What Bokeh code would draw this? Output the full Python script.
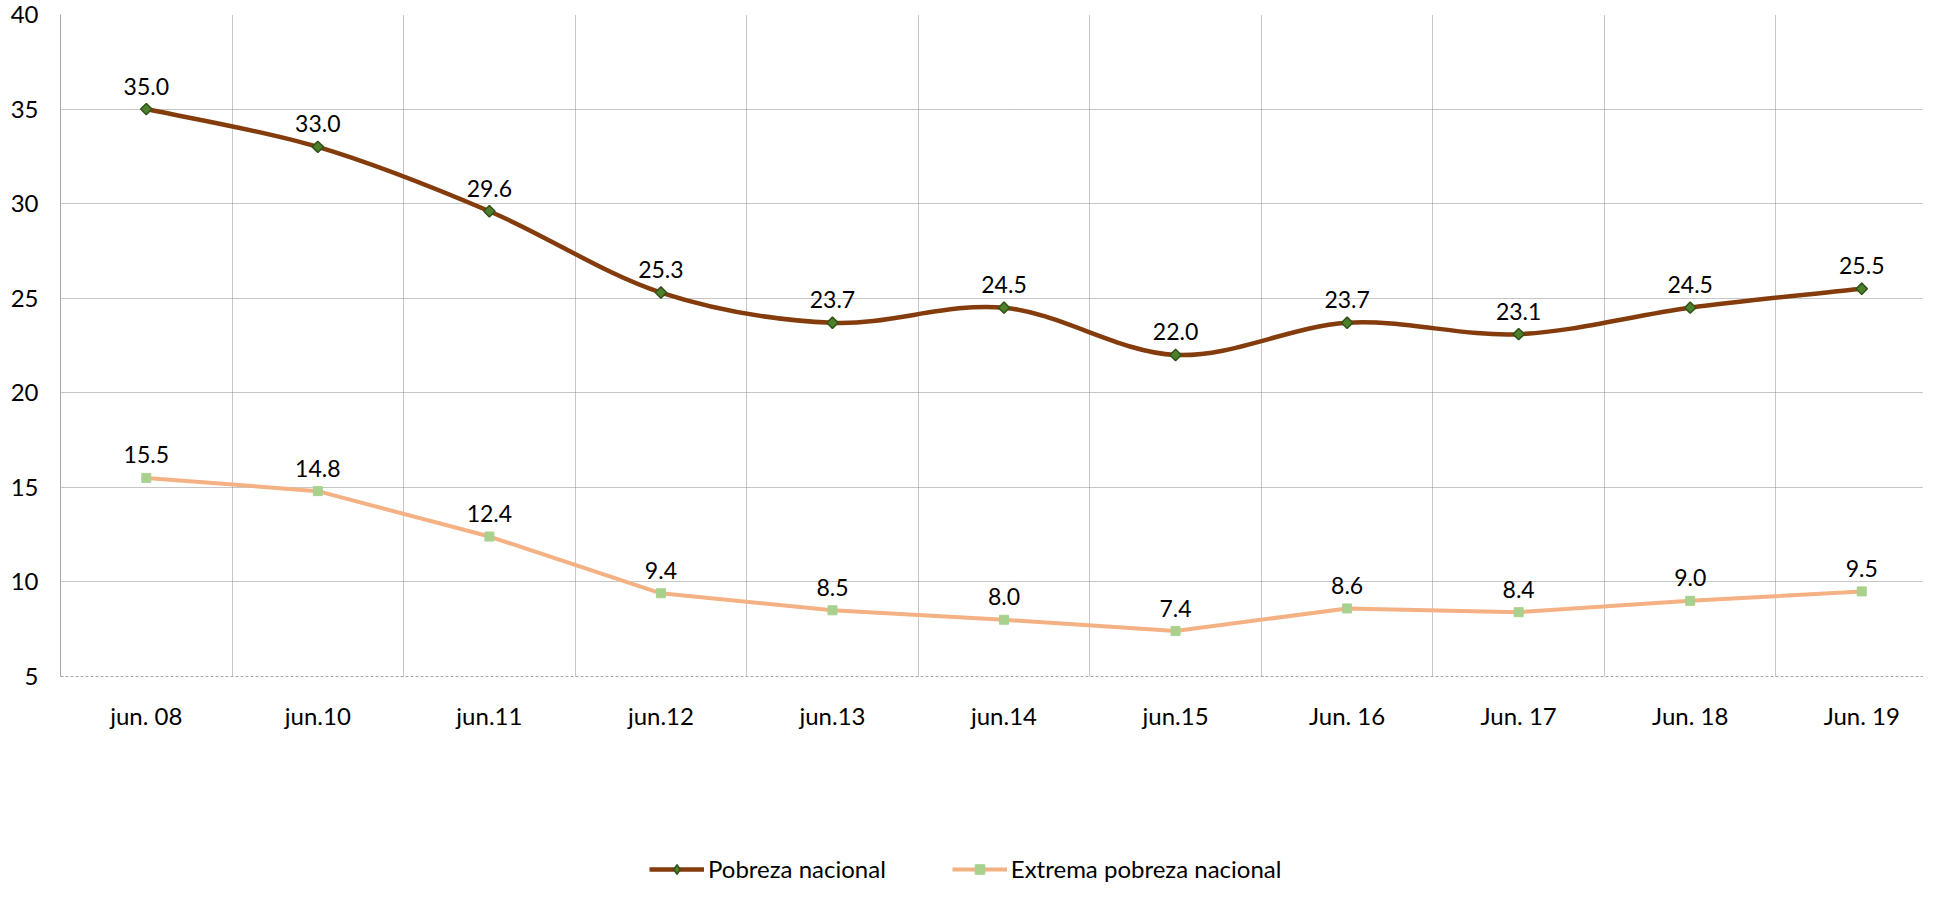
from math import pi
from bokeh.plotting import figure
from bokeh.layouts import column
from bokeh.models import Legend, LegendItem, FixedTicker, Range1d, ColumnDataSource
from bokeh.core.properties import value
from bokeh.embed import file_html
from bokeh.resources import INLINE

categories = ["jun. 08", "jun.10", "jun.11", "jun.12", "jun.13", "jun.14",
              "jun.15", "Jun. 16", "Jun. 17", "Jun. 18", "Jun. 19"]
pobreza = [35.0, 33.0, 29.6, 25.3, 23.7, 24.5, 22.0, 23.7, 23.1, 24.5, 25.5]
extrema = [15.5, 14.8, 12.4, 9.4, 8.5, 8.0, 7.4, 8.6, 8.4, 9.0, 9.5]
y_ticks = [5, 10, 15, 20, 25, 30, 35, 40]
series_names = ["Pobreza nacional", "Extrema pobreza nacional"]

FONT = "Lato"
C_POB = "#843C0C"
C_EXT = "#F4B183"
C_DIA_FILL = "#4E7F2B"
C_DIA_LINE = "#2F5219"
C_SQ = "#A9D18E"
GRID = "#8C8C8C"
AXIS = "#A6A6A6"

W = 1923
H_MAIN = 740
H_LEG = 143

xs = list(range(len(categories)))

p = figure(width=W, height=H_MAIN, output_backend="svg", toolbar_location=None,
           x_range=Range1d(-0.5, 10.36), y_range=Range1d(5, 40),
           min_border_left=60, min_border_right=0, min_border_top=14,
           min_border_bottom=64)
p.outline_line_color = None

# axes
p.xaxis.ticker = FixedTicker(ticks=xs)
p.xaxis.major_label_overrides = {i: c for i, c in zip(xs, categories)}
p.xaxis.major_tick_line_color = None
p.xaxis.major_tick_out = 0
p.xaxis.minor_tick_line_color = None
p.xaxis.axis_line_color = AXIS
p.xaxis.axis_line_dash = "3 2"
p.xaxis.major_label_standoff = 24
p.xaxis.major_label_text_font = FONT
p.xaxis.major_label_text_font_size = "24px"
p.xaxis.major_label_text_color = "black"

p.yaxis.ticker = FixedTicker(ticks=y_ticks)
p.yaxis.major_tick_line_color = None
p.yaxis.major_tick_out = 0
p.yaxis.minor_tick_line_color = None
p.yaxis.axis_line_color = AXIS
p.yaxis.major_label_standoff = 22
p.yaxis.major_label_text_font = FONT
p.yaxis.major_label_text_font_size = "24px"
p.yaxis.major_label_text_color = "black"

p.xgrid.ticker = FixedTicker(ticks=[i + 0.5 for i in xs])
p.xgrid.grid_line_color = GRID
p.xgrid.grid_line_dash = "1 1"
p.ygrid.ticker = FixedTicker(ticks=y_ticks)
p.ygrid.grid_line_color = GRID
p.ygrid.grid_line_dash = "1 1"

# smoothed line (Excel-like Catmull-Rom bezier segments) for pobreza
n = len(xs)
seg = dict(x0=[], y0=[], x1=[], y1=[], cx0=[], cy0=[], cx1=[], cy1=[])
for i in range(n - 1):
    a = max(i - 1, 0)
    d = min(i + 2, n - 1)
    seg["x0"].append(xs[i]); seg["y0"].append(pobreza[i])
    seg["x1"].append(xs[i + 1]); seg["y1"].append(pobreza[i + 1])
    seg["cx0"].append(xs[i] + (xs[i + 1] - xs[a]) / 6)
    seg["cy0"].append(pobreza[i] + (pobreza[i + 1] - pobreza[a]) / 6)
    seg["cx1"].append(xs[i + 1] - (xs[d] - xs[i]) / 6)
    seg["cy1"].append(pobreza[i + 1] - (pobreza[d] - pobreza[i]) / 6)
p.bezier(source=ColumnDataSource(seg), x0="x0", y0="y0", x1="x1", y1="y1",
         cx0="cx0", cy0="cy0", cx1="cx1", cy1="cy1",
         line_color=C_POB, line_width=4.5)

p.line(xs, extrema, line_color=C_EXT, line_width=4, line_join="round")

p.scatter(xs, pobreza, marker="square", angle=pi / 4, size=8,
          fill_color=C_DIA_FILL, line_color=C_DIA_LINE, line_width=1.5)
p.scatter(xs, extrema, marker="square", size=9,
          fill_color=C_SQ, line_color=C_SQ, line_width=1)

# data labels
lab1 = ColumnDataSource(dict(x=xs, y=pobreza, t=[f"{v:.1f}" for v in pobreza]))
lab2 = ColumnDataSource(dict(x=xs, y=extrema, t=[f"{v:.1f}" for v in extrema]))
for src in (lab1, lab2):
    p.text(x="x", y="y", text="t", source=src, text_align="center",
           text_baseline="alphabetic", y_offset=-23, text_font=value(FONT),
           text_font_size="23px", text_color="black")

# legend strip below the chart (legend-only renderers sit outside its visible range)
lg = figure(width=W, height=H_LEG, output_backend="svg", toolbar_location=None,
            x_range=Range1d(0, 1), y_range=Range1d(0, 1),
            x_axis_location=None, y_axis_location=None,
            min_border=0)
lg.outline_line_color = None
lg.xgrid.visible = False
lg.ygrid.visible = False
off = dict(x=[-5], y=[-5])
l1 = lg.line(x=off["x"], y=off["y"], line_color=C_POB, line_width=4.5)
m1 = lg.scatter(x=off["x"], y=off["y"], marker="diamond", size=14,
                fill_color=C_DIA_FILL, line_color=C_DIA_LINE, line_width=1.5)
l2 = lg.line(x=off["x"], y=off["y"], line_color=C_EXT, line_width=4)
m2 = lg.scatter(x=off["x"], y=off["y"], marker="square", size=9,
                fill_color=C_SQ, line_color=C_SQ, line_width=1)
legend = Legend(items=[LegendItem(label=series_names[0], renderers=[l1, m1]),
                       LegendItem(label=series_names[1], renderers=[l2, m2])],
                location=(589, 0), orientation="horizontal", padding=0, spacing=66,
                glyph_width=55, glyph_height=24, label_height=24, label_standoff=4,
                margin=0, border_line_color=None, background_fill_alpha=0,
                label_text_font=FONT, label_text_font_size="24px",
                label_text_color="black")
lg.add_layout(legend, "center")

layout = column(p, lg, spacing=0)
open("out.html", "w").write(file_html(layout, INLINE))
